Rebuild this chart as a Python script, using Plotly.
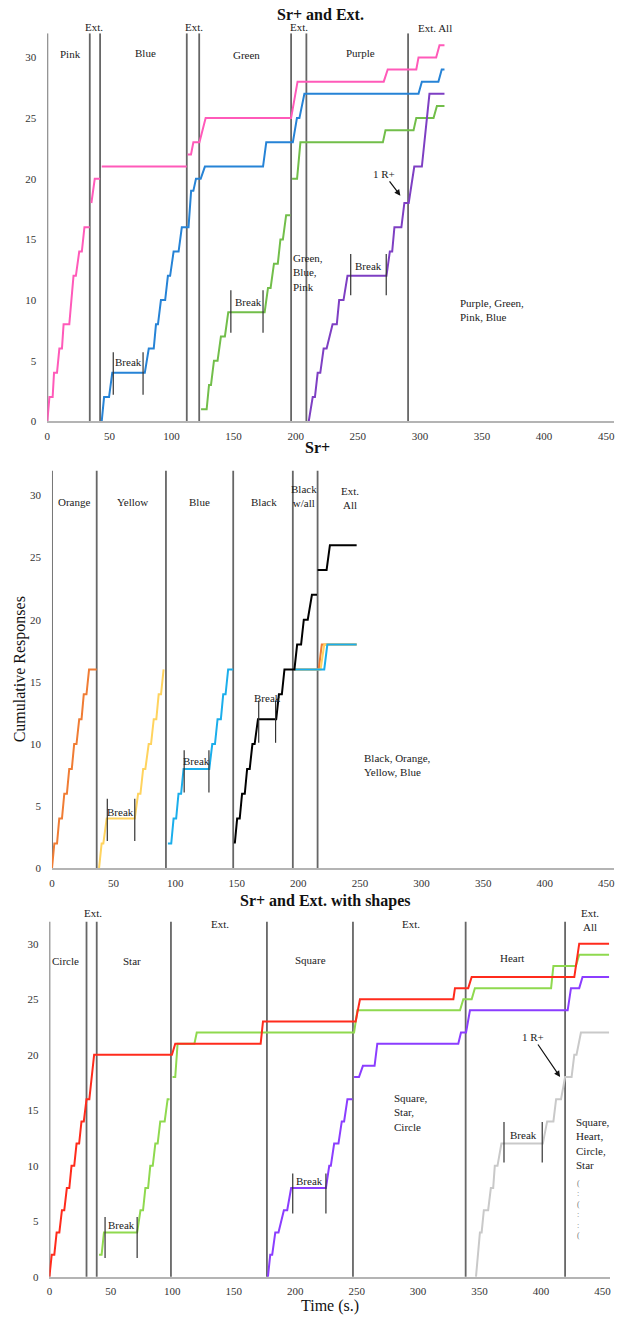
import plotly.graph_objects as go

W, H = 618, 1321

# ---------------- Panel 1: "Sr+ and Ext." ----------------
p1_pink_t = [0, 1.7, 4.3, 5.4, 7.8, 9.7, 11.8, 13.1, 17.7, 21.1, 23, 25.7, 27.8, 29.9, 34.2, None,
             35.5, 38.2, 42.5, None, 43.8, 112.3, None,
             113, 115.7, 117.6, 122.5, 127.5, 196.3, 201.5, 270.9, 274.1, 297.1, 298.9, 313.1, 315.8, 319.8]
p1_pink_y = [0, 2, 2, 4, 4, 6, 6, 8, 8, 12, 12, 14, 14, 16, 16, None,
             18, 20, 20, None, 21, 21, None,
             22, 22, 23, 23, 25, 25, 28, 28, 29, 29, 30, 30, 31, 31]
p1_blue_t = [43.8, 45.7, 49.7, 52.3, 78.5, 81.7, 85.7, 87.5, 89.1, 91.5, 94.9, 97.1, 98.9, 101.7, 105.7, 108.3,
             113.7, 115.8, 117.6, 119.7, 123.5, 126.9, 173.7, 176.3, 197.7, 201, 203, 207, 298.9, 301.6,
             314.9, 317.6, 319.8]
p1_blue_y = [0, 2, 2, 4, 4, 6, 6, 8, 8, 10, 10, 12, 12, 14, 14, 16,
             16, 19, 19, 20, 20, 21, 21, 23, 23, 25, 25, 27, 27, 28, 28, 29, 29]
p1_green_t = [123.8, 128.3, 130.2, 131.8, 134.2, 137.1, 139.8, 143, 145.7, 175, 177.7, 179.8, 182.5, 185.6,
              187.7, 189.7, 192.3, 195.8, None,
              197.1, 201.1, 203.8, 270.2, 272.3, 294.9, 297.1, 311, 313.7, 319.8]
p1_green_y = [1, 1, 3, 3, 5, 5, 7, 7, 9, 9, 11, 11, 13, 13, 15, 15, 17, 17, None,
              20, 20, 23, 23, 24, 24, 25, 25, 26, 26]
p1_purple_t = [210.5, 213.7, 215.5, 217.7, 219.8, 222.5, 224.9, 229.7, 233.1, 235, 238.5, 241.7, 273.1,
               275.8, 277.7, 279.5, 285.1, 287.5, 291, 295.5, 301.6, 307.7, 319.8]
p1_purple_y = [0, 2, 2, 4, 4, 6, 6, 8, 8, 10, 10, 12, 12, 14, 14, 16, 16, 18, 18, 21, 21, 27, 27]
p1_phase_lines = [0, 34.2, 42.5, 112.3, 122.3, 196.3, 208.6, 290.5]
p1_break_ticks = [53.1, 77.1, 147.8, 173.7, 244.3, 272.9]
p1_break_lo = [2.2, 2.2, 7.3, 7.3, 10.4, 10.4]
p1_break_hi = [5.7, 5.7, 10.8, 10.8, 13.8, 13.8]

# ---------------- Panel 2: "Sr+" ----------------
p2_orange_t = [0, 1.9, 4.1, 5.9, 8.1, 10, 12.1, 14, 16.1, 18, 19.9, 22.1, 24, 25.8, 28, 30.1, 36.3, None,
               196.8, 216.5, 219, 247.3]
p2_orange_y = [0, 2, 2, 4, 4, 6, 6, 8, 8, 10, 10, 12, 12, 14, 14, 16, 16, None, 16, 16, 18, 18]
p2_yellow_t = [38.2, 40.3, 41.7, 44.4, 67.2, 69.9, 71.8, 74, 75.8, 78.5, 80.4, 82.6, 84.7, 86.6, 88.5, 90.6,
               None, 196.8, 218, 221, 247.3]
p2_yellow_y = [0, 2, 2, 4, 4, 6, 6, 8, 8, 10, 10, 12, 12, 14, 14, 16, None, 16, 16, 18, 18]
p2_blue_t = [94.1, 96.8, 98.7, 100.8, 102.7, 104.8, 106.8, 127.7, 130.1, 132.3, 134.4, 137.1, 139, 140.9,
             143, 147.1, None, 196.8, 221, 223.5, 247.3]
p2_blue_y = [2, 2, 4, 4, 6, 6, 8, 8, 10, 10, 12, 12, 14, 14, 16, 16, None, 16, 16, 18, 18]
p2_black_t = [148.4, 150.3, 152.4, 154.3, 156.5, 158.4, 160.5, 162.7, 164.5, 167.2, 182, 184.2, 186.6,
              188.7, 196.8, 199, 202.2, 204.4, 207.6, 211, 215.1, None, 215.6, 222.9, 225.6, 247.3]
p2_black_y = [2, 4, 4, 6, 6, 8, 8, 10, 10, 12, 12, 14, 14, 16, 16, 18, 18, 20, 20, 22, 22, None,
              24, 24, 26, 26]
p2_phase_lines = [0, 36.3, 92.5, 147.1, 195.5, 215.6]
p2_break_ticks = [44.9, 67.2, 107.3, 127.4, 167.8, 181.5]
p2_break_lo = [2.2, 2.2, 6.1, 6.1, 10.1, 10.1]
p2_break_hi = [5.6, 5.6, 9.5, 9.5, 13.5, 13.5]

# ---------------- Panel 3: "Sr+ and Ext. with shapes" ----------------
p3_red_t = [0, 1.9, 4, 5.9, 8.1, 10.2, 12.1, 14.2, 16.2, 18, 20.2, 22.1, 24.2, 26.1, 28, 30.2, 32.5, 36.4,
            99.7, 102.4, 171.9, 173.8, 249.2, 252.7, 328.7, 330, 340.8, 343.6, 427.1, 431.1, 455.4]
p3_red_y = [0, 2, 2, 4, 4, 6, 6, 8, 8, 10, 10, 12, 12, 14, 14, 16, 16, 20,
            20, 21, 21, 23, 23, 25, 25, 26, 26, 27, 27, 30, 30]
p3_green_t = [40.4, 42.5, 44.4, 71.4, 74.1, 76.2, 78.1, 80.3, 82.1, 84.1, 86.2, 88.1, 90.2, 93.8, 96.2, 97.8,
              None, 100.2, 102.4, 104.3, 118, 119.9, 247.9, 250.6, 334.1, 336.8, 343.6, 346.2, 408.2, 410.1,
              428.4, 431.1, 455.4]
p3_green_y = [2, 2, 4, 4, 6, 6, 8, 8, 10, 10, 12, 12, 14, 14, 16, 16, None,
              18, 18, 21, 21, 22, 22, 24, 24, 25, 25, 26, 26, 28, 28, 29, 29]
p3_purple_t = [177.8, 179.7, 181.3, 183.8, 186.4, 190.8, 193.5, 196.7, 225, 227.7, 229, 231.7, 235.2, 237.9,
               239.8, 242.5, 246.6, None, 247.9, 251.9, 255.1, 264.6, 266.8, 332.7, 334.9, 339, 342.2,
               421.7, 424.4, 431.1, 433.8, 455.4]
p3_purple_y = [0, 2, 2, 4, 4, 6, 6, 8, 8, 10, 10, 12, 12, 14, 14, 16, 16, None,
               18, 18, 19, 19, 21, 21, 22, 22, 24, 24, 26, 26, 27, 27]
p3_gray_t = [347.1, 350.3, 351.7, 353.5, 357, 359.2, 361.1, 362.4, 364.6, 367.8, 401.5, 405, 410.1, 412.3,
             416.3, 419.6, 424.9, 427.1, 428.9, 432.5, 455.4]
p3_gray_y = [0, 4, 4, 6, 6, 8, 8, 10, 10, 12, 12, 14, 14, 16, 16, 18, 18, 20, 20, 22, 22]
p3_phase_lines = [0, 30.2, 38.5, 98.9, 177, 247, 338.7, 419.6]
p3_break_ticks = [45.3, 71.4, 198, 225, 369.9, 401]
p3_break_lo = [1.7, 1.7, 5.7, 5.7, 10.3, 10.3]
p3_break_hi = [5.4, 5.4, 9.3, 9.3, 13.95, 13.95]

x_ticks = [0, 50, 100, 150, 200, 250, 300, 350, 400, 450]
y_ticks = [0, 5, 10, 15, 20, 25, 30]

SERIF = "Liberation Serif"
fig = go.Figure()

def add_series(t, y, color, xa, ya, width=2):
    fig.add_trace(go.Scatter(x=t, y=y, mode="lines", line=dict(color=color, width=width),
                             xaxis=xa, yaxis=ya, showlegend=False, hoverinfo="skip",
                             connectgaps=False))

def add_break_ticks(ticks, lo, hi, xa, ya):
    for t, a, b in zip(ticks, lo, hi):
        fig.add_shape(type="line", xref=xa, yref=ya, x0=t, x1=t, y0=a, y1=b,
                      line=dict(color="#333333", width=1.2), layer="above")

def add_phase_lines(lines, xa, ya):
    for t in lines:
        fig.add_shape(type="line", xref=xa, yref=ya, x0=t, x1=t, y0=0, y1=32,
                      line=dict(color="#666666", width=1.8), layer="below")

# panel 1
add_phase_lines(p1_phase_lines, "x", "y")
add_series(p1_pink_t, p1_pink_y, "#FF5AB9", "x", "y")
add_series(p1_blue_t, p1_blue_y, "#2683D6", "x", "y")
add_series(p1_green_t, p1_green_y, "#72BE4A", "x", "y")
add_series(p1_purple_t, p1_purple_y, "#7E3FC3", "x", "y")
add_break_ticks(p1_break_ticks, p1_break_lo, p1_break_hi, "x", "y")

# panel 2
add_phase_lines(p2_phase_lines, "x2", "y2")
add_series(p2_orange_t, p2_orange_y, "#F07C34", "x2", "y2")
add_series(p2_yellow_t, p2_yellow_y, "#FFD35E", "x2", "y2")
add_series(p2_blue_t, p2_blue_y, "#1BAEEB", "x2", "y2")
add_series(p2_black_t, p2_black_y, "#000000", "x2", "y2")
add_break_ticks(p2_break_ticks, p2_break_lo, p2_break_hi, "x2", "y2")

# panel 3
add_phase_lines(p3_phase_lines, "x3", "y3")
add_series(p3_gray_t, p3_gray_y, "#C9C9C9", "x3", "y3")
add_series(p3_purple_t, p3_purple_y, "#8B3DFF", "x3", "y3")
add_series(p3_green_t, p3_green_y, "#8FD94F", "x3", "y3")
add_series(p3_red_t, p3_red_y, "#FF2B1C", "x3", "y3")
add_break_ticks(p3_break_ticks, p3_break_lo, p3_break_hi, "x3", "y3")

# ---- layout (pixel geometry -> paper domains) ----
def xdom(x0_px, px_per_unit, xmax):
    return [x0_px / W, (x0_px + xmax * px_per_unit) / W]

def ydom(top_px, bottom_px):
    return [1 - bottom_px / H, 1 - top_px / H]

XMAX = 456
tickfont = dict(family=SERIF, size=11, color="#333333")
def xaxis_cfg(dom, anchor):
    return dict(domain=dom, range=[0, XMAX], anchor=anchor, tickvals=x_ticks, showgrid=False,
                zeroline=False, showline=True, linecolor="#b4b4b4", linewidth=2, ticks="",
                tickfont=tickfont, ticklabelstandoff=3, fixedrange=True)
def yaxis_cfg(dom, anchor):
    return dict(domain=dom, range=[0, 32], anchor=anchor, tickvals=y_ticks, showgrid=False,
                zeroline=False, showline=False, ticks="", tickfont=tickfont,
                ticklabelstandoff=10, fixedrange=True)

fig.update_layout(
    width=W, height=H, margin=dict(l=0, r=0, t=0, b=0),
    paper_bgcolor="white", plot_bgcolor="white", showlegend=False,
    xaxis=xaxis_cfg(xdom(44.6, 1.25, XMAX), "y"),
    yaxis=yaxis_cfg(ydom(33.3, 423.3), "x"),
    xaxis2=xaxis_cfg(xdom(49.3, 1.24, XMAX), "y2"),
    yaxis2=yaxis_cfg(ydom(472.7, 872.3), "x2"),
    xaxis3=xaxis_cfg(xdom(46.7, 1.237, XMAX), "y3"),
    yaxis3=yaxis_cfg(ydom(925.7, 1282.7), "x3"),
)

txt = dict(family=SERIF, size=11, color="#222222")
def note(text, x, y, xa, ya, xanchor="center", yanchor="middle", align="center", size=11):
    fig.add_annotation(text=text, x=x, y=y, xref=xa, yref=ya, showarrow=False,
                       xanchor=xanchor, yanchor=yanchor, align=align,
                       font=dict(family=SERIF, size=size, color="#222222"))

def paper_note(text, px, py, size=16, bold=False, angle=0, color="#111111"):
    fig.add_annotation(text=f"<b>{text}</b>" if bold else text, x=px / W, y=1 - py / H,
                       xref="paper", yref="paper", showarrow=False, textangle=angle,
                       xanchor="center", yanchor="middle",
                       font=dict(family=SERIF, size=size, color=color))

# panel 1 texts
paper_note("Sr+ and Ext.", 320, 15, size=16, bold=True)
for t, px, py in [("Ext.", 91.7, 26.7), ("Ext.", 192.7, 26.7), ("Ext.", 298.3, 26.7), ("Ext. All", 435, 27.7)]:
    paper_note(t, px, py, size=11, color="#222222")
for t, x, y in [("Pink", 18.7, 30.3), ("Blue", 78.7, 30.4), ("Green", 160.3, 30.2), ("Purple", 252.3, 30.4),
                ("Break", 65.5, 4.9), ("Break", 161.7, 9.8), ("Break", 258.9, 12.8)]:
    note(t, x, y, "x", "y")
note("Green,<br>Blue,<br>Pink", 196.3, 14.1, "x", "y", xanchor="left", yanchor="top", align="left")
note("Purple, Green,<br>Pink, Blue", 331, 10.4, "x", "y", xanchor="left", yanchor="top", align="left")
fig.add_annotation(text="1 R+", x=284.3, y=18.6, ax=271, ay=20.4, xref="x", yref="y", axref="x", ayref="y",
                   showarrow=True, arrowhead=2, arrowsize=1, arrowwidth=1.2, arrowcolor="#111111",
                   font=txt)

# panel 2 texts
paper_note("Sr+", 316.7, 450, size=16, bold=True)
paper_note("Cumulative Responses", 18, 672.5, size=16, angle=-90)
for t, x, y in [("Orange", 18.1, 29.5), ("Yellow", 65.1, 29.5), ("Blue", 119.7, 29.5), ("Black", 171.8, 29.5),
                ("Break", 55.7, 4.5), ("Break", 116.9, 8.6), ("Break", 175.3, 13.7)]:
    note(t, x, y, "x2", "y2")
note("Black<br>w/all", 204.8, 29.95, "x2", "y2")
note("Ext.<br>All", 241.7, 29.8, "x2", "y2")
note("Black, Orange,<br>Yellow, Blue", 252, 9.5, "x2", "y2", xanchor="left", yanchor="top", align="left")

# panel 3 texts
paper_note("Sr+ and Ext. with shapes", 325, 905, size=16, bold=True)
paper_note("Time (s.)", 329, 1311.7, size=16)
paper_note("Ext.", 90.7, 916.7, size=11, color="#222222")
paper_note("Ext.<br>All", 590.7, 924.5, size=11, color="#222222")
for t, x, y in [("Circle", 13.4, 28.4), ("Star", 67.3, 28.4), ("Square", 212.3, 28.5),
                ("Heart", 376.7, 28.7), ("Ext.", 138.7, 31.8), ("Ext.", 294.3, 31.8),
                ("Break", 58.4, 4.65), ("Break", 211.5, 8.65), ("Break", 385.9, 12.8)]:
    note(t, x, y, "x3", "y3")
note("Square,<br>Star,<br>Circle", 278.9, 16.8, "x3", "y3", xanchor="left", yanchor="top", align="left")
note("Square,<br>Heart,<br>Circle,<br>Star", 427.1, 14.7, "x3", "y3", xanchor="left", yanchor="top", align="left")
fig.add_annotation(text="(<br>:<br>(<br>:<br>:<br>(", x=427.3, y=9.0, xref="x3", yref="y3", showarrow=False,
                   xanchor="left", yanchor="top", align="left",
                   font=dict(family=SERIF, size=8, color="#777777"))
fig.add_annotation(text="1 R+", x=415.5, y=18.0, ax=393.4, ay=21.6, xref="x3", yref="y3", axref="x3",
                   ayref="y3", showarrow=True, arrowhead=2, arrowsize=1, arrowwidth=1.2,
                   arrowcolor="#111111", font=txt)

fig.write_html("out.html")
